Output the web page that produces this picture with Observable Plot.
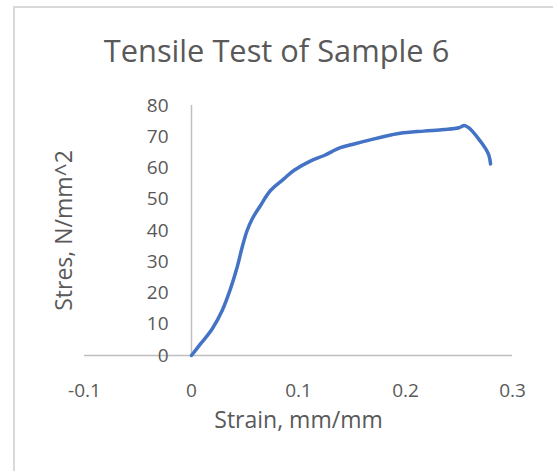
<!DOCTYPE html>
<html>
<head>
<meta charset="utf-8">
<script src="https://cdn.jsdelivr.net/npm/d3@7"></script>
<script src="https://cdn.jsdelivr.net/npm/@observablehq/plot@0.6"></script>
<style>
  html, body { margin: 0; padding: 0; background: #fff; }
  body { width: 553px; height: 471px; position: relative; overflow: hidden; font-family: "Open Sans", sans-serif; }
  #frame { position: absolute; left: 13px; top: 6px; width: 600px; height: 520px; border-left: 2px solid #d9d9d9; border-top: 2px solid #d9d9d9; }
  #title { position: absolute; left: 0; top: 35px; width: 553px; text-align: center; font-size: 30.8px; line-height: 30px; color: #595959; }
  #chart { position: absolute; left: 0; top: 90px; }
</style>
</head>
<body>
<div id="frame"></div>
<div id="title">Tensile Test of Sample 6</div>
<div id="chart"></div>
<script>
const strain = [0, 0.0084, 0.0193, 0.0287, 0.0364, 0.0427, 0.0474, 0.052, 0.0567, 0.0645, 0.0738, 0.0863, 0.0956, 0.111, 0.124, 0.139, 0.152, 0.167, 0.180, 0.195, 0.217, 0.236, 0.250, 0.255, 0.259, 0.267, 0.275, 0.278, 0.2795];
const stress = [0, 3.7, 8.5, 14.4, 21.3, 28.3, 34.7, 40, 43.7, 48, 52.8, 56.5, 59.2, 62.2, 64, 66.5, 67.7, 69, 70.1, 71.1, 71.8, 72.3, 72.9, 73.6, 72.9, 69.9, 66.1, 64, 61.3];
const xTicks = [-0.1, 0, 0.1, 0.2, 0.3];
const yTicks = [0, 10, 20, 30, 40, 50, 60, 70, 80];
const xLabel = "Strain, mm/mm";
const yLabel = "Stres, N/mm^2";

const data = strain.map((s, i) => ({strain: s, stress: stress[i]}));
const textColor = "#595959";

const chart = Plot.plot({
  width: 553,
  height: 381,
  marginLeft: 84,
  marginRight: 41,
  marginTop: 15,
  marginBottom: 116,
  x: {domain: [-0.1, 0.3], axis: null},
  y: {domain: [0, 80], axis: null},
  style: {fontFamily: "Open Sans", background: "transparent", color: textColor, overflow: "visible"},
  marks: [
    Plot.ruleY([0], {x1: -0.1, x2: 0.3, stroke: "#bfbfbf", strokeWidth: 1.5}),
    Plot.ruleX([0], {y1: 0, y2: 80, stroke: "#bfbfbf", strokeWidth: 1.5}),
    Plot.line(data, {x: "strain", y: "stress", stroke: "#4472C4", strokeWidth: 3.5, curve: "catmull-rom", strokeLinejoin: "round", strokeLinecap: "round"}),
    Plot.text(yTicks, {x: 0, y: d => d, text: d => String(d), textAnchor: "end", dx: -23, fontSize: 19, fill: textColor}),
    Plot.text(xTicks, {x: d => d, y: 0, text: d => String(d), dy: 35, fontSize: 19, fill: textColor}),
    Plot.text([xLabel], {frameAnchor: "bottom", dy: 72, fontSize: 23, fill: textColor}),
    Plot.text([yLabel], {frameAnchor: "left", textAnchor: "middle", dx: -20, rotate: -90, fontSize: 23, fill: textColor})
  ]
});
document.getElementById("chart").appendChild(chart);
</script>
</body>
</html>
